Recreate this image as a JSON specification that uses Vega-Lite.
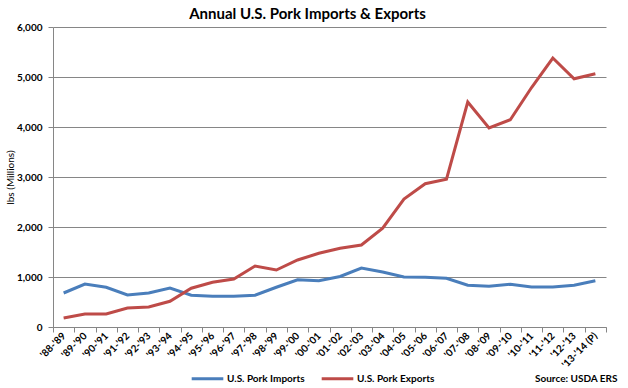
{
  "$schema": "https://vega.github.io/schema/vega-lite/v6.json",
  "width": 553,
  "height": 300,
  "autosize": "none",
  "padding": {"left": 53, "top": 27, "right": 22, "bottom": 61},
  "background": "white",
  "config": {
    "font": "Lato",
    "view": {"stroke": null}
  },
  "title": {
    "text": "Annual U.S. Pork Imports & Exports",
    "fontSize": 15,
    "fontWeight": "bold",
    "color": "#000000",
    "anchor": "middle",
    "dx": -22,
    "dy": 8,
    "offset": 8
  },
  "data": {
    "values": [
      {"season": "'88-'89", "series": "U.S. Pork Imports", "lbs": 680},
      {"season": "'89-'90", "series": "U.S. Pork Imports", "lbs": 860},
      {"season": "'90-'91", "series": "U.S. Pork Imports", "lbs": 795},
      {"season": "'91-'92", "series": "U.S. Pork Imports", "lbs": 640},
      {"season": "'92-'93", "series": "U.S. Pork Imports", "lbs": 680},
      {"season": "'93-'94", "series": "U.S. Pork Imports", "lbs": 780},
      {"season": "'94-'95", "series": "U.S. Pork Imports", "lbs": 635},
      {"season": "'95-'96", "series": "U.S. Pork Imports", "lbs": 615},
      {"season": "'96-'97", "series": "U.S. Pork Imports", "lbs": 615},
      {"season": "'97-'98", "series": "U.S. Pork Imports", "lbs": 635},
      {"season": "'98-'99", "series": "U.S. Pork Imports", "lbs": 795},
      {"season": "'99-'00", "series": "U.S. Pork Imports", "lbs": 945},
      {"season": "'00-'01", "series": "U.S. Pork Imports", "lbs": 925},
      {"season": "'01-'02", "series": "U.S. Pork Imports", "lbs": 1010},
      {"season": "'02-'03", "series": "U.S. Pork Imports", "lbs": 1180},
      {"season": "'03-'04", "series": "U.S. Pork Imports", "lbs": 1100},
      {"season": "'04-'05", "series": "U.S. Pork Imports", "lbs": 1000},
      {"season": "'05-'06", "series": "U.S. Pork Imports", "lbs": 995},
      {"season": "'06-'07", "series": "U.S. Pork Imports", "lbs": 975},
      {"season": "'07-'08", "series": "U.S. Pork Imports", "lbs": 835},
      {"season": "'08-'09", "series": "U.S. Pork Imports", "lbs": 815},
      {"season": "'09-'10", "series": "U.S. Pork Imports", "lbs": 855},
      {"season": "'10-'11", "series": "U.S. Pork Imports", "lbs": 800},
      {"season": "'11-'12", "series": "U.S. Pork Imports", "lbs": 800},
      {"season": "'12-'13", "series": "U.S. Pork Imports", "lbs": 835},
      {"season": "'13-'14 (P)", "series": "U.S. Pork Imports", "lbs": 925},
      {"season": "'88-'89", "series": "U.S. Pork Exports", "lbs": 180},
      {"season": "'89-'90", "series": "U.S. Pork Exports", "lbs": 260},
      {"season": "'90-'91", "series": "U.S. Pork Exports", "lbs": 260},
      {"season": "'91-'92", "series": "U.S. Pork Exports", "lbs": 380},
      {"season": "'92-'93", "series": "U.S. Pork Exports", "lbs": 400},
      {"season": "'93-'94", "series": "U.S. Pork Exports", "lbs": 515},
      {"season": "'94-'95", "series": "U.S. Pork Exports", "lbs": 775},
      {"season": "'95-'96", "series": "U.S. Pork Exports", "lbs": 895},
      {"season": "'96-'97", "series": "U.S. Pork Exports", "lbs": 960},
      {"season": "'97-'98", "series": "U.S. Pork Exports", "lbs": 1220},
      {"season": "'98-'99", "series": "U.S. Pork Exports", "lbs": 1140},
      {"season": "'99-'00", "series": "U.S. Pork Exports", "lbs": 1340},
      {"season": "'00-'01", "series": "U.S. Pork Exports", "lbs": 1475},
      {"season": "'01-'02", "series": "U.S. Pork Exports", "lbs": 1575},
      {"season": "'02-'03", "series": "U.S. Pork Exports", "lbs": 1640},
      {"season": "'03-'04", "series": "U.S. Pork Exports", "lbs": 1975},
      {"season": "'04-'05", "series": "U.S. Pork Exports", "lbs": 2560},
      {"season": "'05-'06", "series": "U.S. Pork Exports", "lbs": 2865},
      {"season": "'06-'07", "series": "U.S. Pork Exports", "lbs": 2955},
      {"season": "'07-'08", "series": "U.S. Pork Exports", "lbs": 4500},
      {"season": "'08-'09", "series": "U.S. Pork Exports", "lbs": 3980},
      {"season": "'09-'10", "series": "U.S. Pork Exports", "lbs": 4145},
      {"season": "'10-'11", "series": "U.S. Pork Exports", "lbs": 4790},
      {"season": "'11-'12", "series": "U.S. Pork Exports", "lbs": 5380},
      {"season": "'12-'13", "series": "U.S. Pork Exports", "lbs": 4965},
      {"season": "'13-'14 (P)", "series": "U.S. Pork Exports", "lbs": 5065}
    ]
  },
  "mark": {"type": "line", "strokeWidth": 3},
  "encoding": {
    "x": {
      "field": "season",
      "type": "nominal",
      "sort": null,
      "bandPosition": 0.5,
      "scale": {"type": "band", "paddingInner": 0, "paddingOuter": 0},
      "axis": {
        "title": "Source: USDA ERS",
        "titleFontSize": 10,
        "titleFontWeight": "bold",
        "titleColor": "#000000",
        "titleAnchor": null,
        "titleAlign": "right",
        "titleBaseline": "alphabetic",
        "titleX": 564,
        "titleY": 54,
        "labelAngle": -45,
        "labelAlign": "right",
        "labelBaseline": "middle",
        "labelFontSize": 10,
        "labelFontWeight": "bold",
        "labelColor": "#000000",
        "labelPadding": 2,
        "tickBand": "extent",
        "tickSize": 5,
        "tickColor": "#868686",
        "domainColor": "#868686",
        "grid": false
      }
    },
    "y": {
      "field": "lbs",
      "type": "quantitative",
      "scale": {"domain": [0, 6000], "nice": false},
      "axis": {
        "title": "lbs (Millions)",
        "titleFontSize": 10,
        "titleFontWeight": "normal",
        "titleColor": "#000000",
        "titleX": -43,
        "titleY": 150,
        "titleAngle": -90,
        "titleAlign": "center",
        "titleBaseline": "middle",
        "values": [0, 1000, 2000, 3000, 4000, 5000, 6000],
        "format": ",d",
        "labelFontSize": 10,
        "labelFontWeight": "bold",
        "labelColor": "#000000",
        "labelPadding": 6,
        "tickSize": 5,
        "tickColor": "#868686",
        "domainColor": "#868686",
        "gridColor": "#868686",
        "gridWidth": 1
      }
    },
    "color": {
      "field": "series",
      "type": "nominal",
      "sort": ["U.S. Pork Imports", "U.S. Pork Exports"],
      "scale": {"domain": ["U.S. Pork Imports", "U.S. Pork Exports"], "range": ["#4A7EBB", "#BE4B48"]},
      "legend": {
        "title": null,
        "orient": "none",
        "direction": "horizontal",
        "legendX": 137,
        "legendY": 334,
        "symbolType": "stroke",
        "symbolStrokeWidth": 3,
        "symbolSize": 1000,
        "labelFontSize": 10,
        "labelFontWeight": "bold",
        "labelColor": "#000000",
        "columnPadding": 10,
        "labelOffset": 2
      }
    }
  }
}
